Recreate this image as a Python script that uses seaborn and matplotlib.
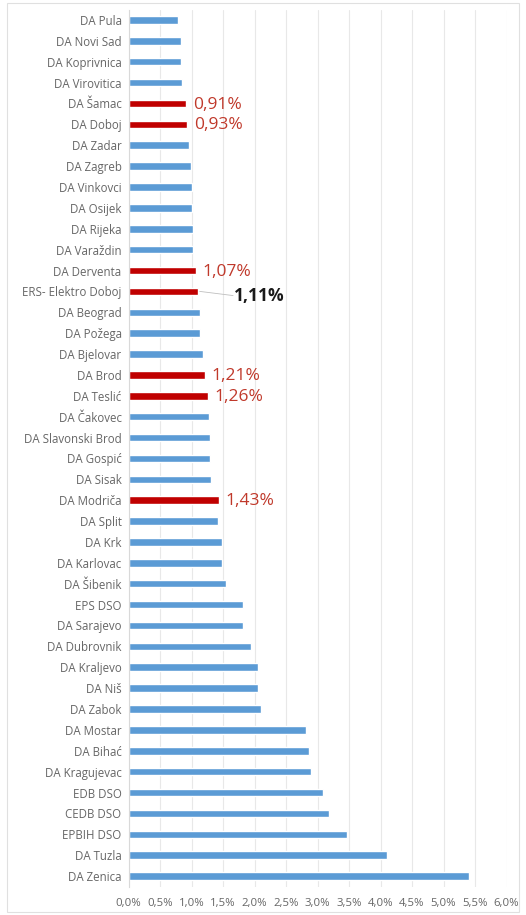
import matplotlib
matplotlib.use("Agg")
import matplotlib.pyplot as plt
import seaborn as sns
import pandas as pd
from matplotlib.patches import Rectangle

categories = ["DA Pula", "DA Novi Sad", "DA Koprivnica", "DA Virovitica", "DA Šamac",
              "DA Doboj", "DA Zadar", "DA Zagreb", "DA Vinkovci", "DA Osijek",
              "DA Rijeka", "DA Varaždin", "DA Derventa", "ERS- Elektro Doboj", "DA Beograd",
              "DA Požega", "DA Bjelovar", "DA Brod", "DA Teslić", "DA Čakovec",
              "DA Slavonski Brod", "DA Gospić", "DA Sisak", "DA Modriča", "DA Split",
              "DA Krk", "DA Karlovac", "DA Šibenik", "EPS DSO", "DA Sarajevo",
              "DA Dubrovnik", "DA Kraljevo", "DA Niš", "DA Zabok", "DA Mostar",
              "DA Bihać", "DA Kragujevac", "EDB DSO", "CEDB DSO", "EPBIH DSO",
              "DA Tuzla", "DA Zenica"]
values = [0.79, 0.84, 0.84, 0.85, 0.91,
          0.93, 0.96, 0.99, 1.00, 1.01,
          1.02, 1.03, 1.07, 1.11, 1.13,
          1.14, 1.19, 1.21, 1.26, 1.28,
          1.29, 1.30, 1.31, 1.43, 1.42,
          1.49, 1.49, 1.54, 1.81, 1.81,
          1.94, 2.05, 2.05, 2.10, 2.82,
          2.87, 2.90, 3.08, 3.19, 3.47,
          4.10, 5.40]
highlight = ["DA Šamac", "DA Doboj", "DA Derventa", "ERS- Elektro Doboj",
             "DA Brod", "DA Teslić", "DA Modriča"]
annot_labels = {"DA Šamac": "0,91%", "DA Doboj": "0,93%", "DA Derventa": "1,07%",
                "ERS- Elektro Doboj": "1,11%", "DA Brod": "1,21%",
                "DA Teslić": "1,26%", "DA Modriča": "1,43%"}
xticks = [0.0, 0.5, 1.0, 1.5, 2.0, 2.5, 3.0, 3.5, 4.0, 4.5, 5.0, 5.5, 6.0]
xtick_labels = ["0,0%", "0,5%", "1,0%", "1,5%", "2,0%", "2,5%", "3,0%",
                "3,5%", "4,0%", "4,5%", "5,0%", "5,5%", "6,0%"]

df = pd.DataFrame({"name": categories, "value": values})
df["group"] = ["hl" if n in highlight else "base" for n in categories]

sns.set_theme(style="white")
plt.rcParams["font.family"] = ["Open Sans", "DejaVu Sans"]

W, H = 526, 915
fig = plt.figure(figsize=(W / 100, H / 100), dpi=100)
ax = fig.add_axes([128.5 / W, 1 - 886.5 / H, (506.5 - 128.5) / W, (886.5 - 9.5) / H])

sns.barplot(data=df, y="name", x="value", hue="group", order=categories,
            palette={"base": "#5B9BD5", "hl": "#C00000"}, dodge=False,
            width=0.36, legend=False, ax=ax, orient="h", saturation=1)

ax.set_xlim(0, 6.0)
ax.set_ylim(len(categories) - 0.5, -0.5)
ax.set_xticks(xticks)
ax.set_xticklabels(xtick_labels, fontsize=8.2, color="#666666")
ax.tick_params(axis="y", labelsize=8.3, labelcolor="#666666", length=0, pad=5)
ax.tick_params(axis="x", length=0, pad=8)
ax.set_xlabel("")
ax.set_ylabel("")
ax.grid(axis="x", color="#E8E8E8", linewidth=0.8)
ax.set_axisbelow(True)
for s in ["top", "right", "bottom"]:
    ax.spines[s].set_visible(False)
ax.spines["left"].set_color("#D9D9D9")
ax.spines["left"].set_linewidth(0.8)

for i, (n, v) in enumerate(zip(categories, values)):
    if n in annot_labels:
        if n == "ERS- Elektro Doboj":
            ax.plot([v + 0.02, v + 0.55], [i, i + 0.2], color="#BFBFBF", lw=0.6)
            ax.text(v + 0.57, i + 0.2, annot_labels[n], fontsize=12.5, fontweight="bold",
                    color="#1A1A1A", va="center", ha="left")
        else:
            ax.text(v + 0.11, i + 0.05, annot_labels[n], fontsize=12.5,
                    color="#C0392B", va="center", ha="left")

fig.patches.append(Rectangle((7 / W, 3 / H), (519 - 7) / W, (912 - 3) / H,
                             transform=fig.transFigure, fill=False,
                             edgecolor="#E0E0E0", linewidth=0.8))

fig.savefig("out.png", dpi=100)
